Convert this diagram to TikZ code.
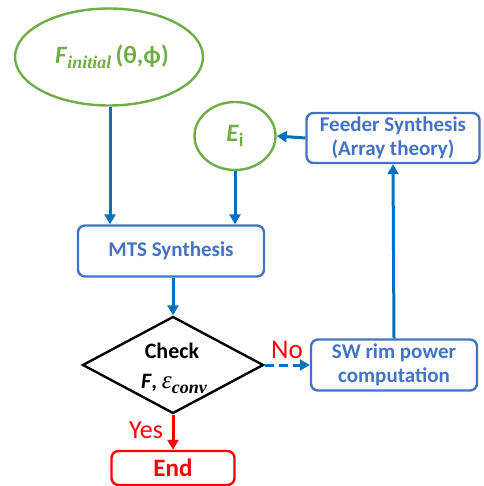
\documentclass[tikz,border=0pt]{standalone}
\usepackage{fontspec}
\setmainfont{Carlito}
\newfontfamily\tnr{Liberation Serif}
\usetikzlibrary{shapes.geometric,arrows.meta}
\definecolor{cgreen}{HTML}{70AD47}
\definecolor{cblue}{HTML}{4472C4}
\definecolor{ablue}{HTML}{0070C0}
\definecolor{cred}{HTML}{FF0000}
\tikzset{
  ell/.style={ellipse,draw=cgreen,line width=2.4pt,inner sep=0pt,text=cgreen,font=\bfseries},
  bbox/.style={rectangle,rounded corners=7pt,draw=cblue,line width=2.4pt,inner sep=0pt,text=cblue,font=\bfseries\fontsize{21}{24}\selectfont,align=center},
  tip/.style={-{Triangle[length=10pt,width=11pt]}},
  arr/.style={draw=ablue,line width=3pt,tip},
}
\begin{document}
\begin{tikzpicture}[x=1pt,y=-1pt]
\useasboundingbox (0,0) rectangle (483,486);
\node[ell,minimum width=188pt,minimum height=97pt] (fi) at (109,57)
  {\hspace*{6pt}\fontsize{25}{28}\selectfont\textit{F}\raisebox{-5pt}{\tnr\bfseries\itshape\fontsize{18}{20}\selectfont initial}\,(θ,ϕ)};
\node[ell,minimum width=81pt,minimum height=68pt] (ei) at (235,136)
  {\fontsize{25}{28}\selectfont\textit{E}\raisebox{-5pt}{\fontsize{19}{20}\selectfont i}};
\node[bbox,minimum width=173pt,minimum height=50pt] (fs) at (393,138) {Feeder Synthesis\\(Array theory)};
\node[bbox,minimum width=186pt,minimum height=51pt] (mts) at (171,251) {MTS Synthesis};
\node[diamond,draw=black,line width=2.4pt,minimum width=181pt,minimum height=97pt,inner sep=0pt,aspect=1.87] (chk) at (173,365) {};
\node[font=\bfseries\fontsize{22}{24}\selectfont] (chkt) at (172,351) {Check};
\node[font=\fontsize{22}{24}\selectfont] (chkf) at (174,384) {\textbf{\textit{F},} {\tnr\itshape\fontsize{25}{26}\selectfont ε}\raisebox{-5pt}{\tnr\bfseries\itshape\fontsize{18}{20}\selectfont conv}};
\node[bbox,minimum width=166pt,minimum height=51pt] (sw) at (394,365) {SW rim power\\computation};
\node[rectangle,rounded corners=7pt,draw=cred,line width=2.4pt,minimum width=123pt,minimum height=34pt,text=cred,font=\bfseries\fontsize{25}{28}\selectfont] (end) at (173,468) {End};
\draw[arr] (fi.south) ++(1,0) coordinate (fib) -- (fib |- mts.north);
\draw[arr] (ei.south) -- (ei.south |- mts.north);
\draw[arr] (fs.west) -- (ei.east);
\draw[arr] (mts.south -| chk.north) -- (chk.north);
\draw[arr] (sw.north) -- (fs.south);
\draw[draw=ablue,line width=3pt,dash pattern=on 9pt off 5pt,tip] (chk.east) -- (sw.west);
\draw[draw=cred,line width=3pt,tip] (chk.south) -- (end.north);
\node[text=cred,font=\fontsize{27}{30}\selectfont] (no) at (287,350) {No};
\node[text=cred,font=\fontsize{26}{30}\selectfont] (yes) at (146,430) {Yes};
\end{tikzpicture}
\end{document}
